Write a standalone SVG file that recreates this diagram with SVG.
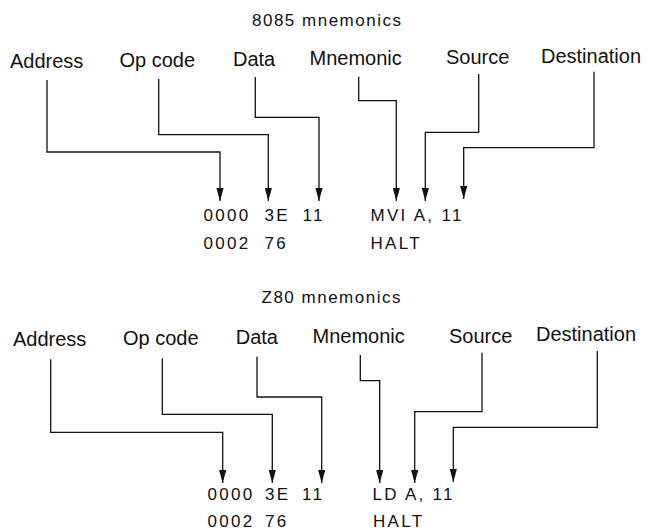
<svg xmlns="http://www.w3.org/2000/svg" width="648" height="531" viewBox="0 0 648 531">
<style>
  .title { font-family: "Liberation Sans", Arial, sans-serif; font-size: 17px; letter-spacing: 1.5px; fill: #111; }
  .label { font-family: "Liberation Sans", Arial, sans-serif; font-size: 20px; fill: #111; }
  .code { font-family: "Liberation Sans", Arial, sans-serif; font-size: 17px; letter-spacing: 2.3px; fill: #111; }
  .conn { fill: none; stroke: #111; stroke-width: 1.3; marker-end: url(#arrow); }
</style>
<defs>
  <marker id="arrow" viewBox="0 0 13 7.2" refX="13" refY="3.6" markerWidth="13" markerHeight="7.2" markerUnits="userSpaceOnUse" orient="auto">
    <path d="M0,0 L13,3.6 L0,7.2 z" fill="#111"/>
  </marker>
</defs>
<rect width="648" height="531" fill="#fff"/>

<!-- 8085 section -->
<g id="title-8085"><text class="title" x="252" y="26">8085 mnemonics</text></g>
<g id="top-address"><text class="label" x="10" y="68">Address</text></g>
<g id="top-opcode"><text class="label" x="119.5" y="67">Op code</text></g>
<g id="top-data"><text class="label" x="233" y="66">Data</text></g>
<g id="top-mnemonic"><text class="label" x="309.5" y="65">Mnemonic</text></g>
<g id="top-source"><text class="label" x="446" y="64">Source</text></g>
<g id="top-destination"><text class="label" x="541" y="63">Destination</text></g>

<g id="top-row1">
  <text class="code" x="203.5" y="221">0000</text>
  <text class="code" x="264.5" y="221">3E</text>
  <text class="code" x="302.5" y="221">11</text>
  <text class="code" x="370.5" y="221">MVI A, 11</text>
</g>
<g id="top-row2">
  <text class="code" x="203.5" y="249">0002</text>
  <text class="code" x="264.5" y="249">76</text>
  <text class="code" x="370.5" y="249">HALT</text>
</g>

<g id="top-connectors">
  <path class="conn" d="M47,80 V152 H220 V201"/>
  <path class="conn" d="M158.7,79 V134.7 H268.3 V201"/>
  <path class="conn" d="M255.3,77 V117.3 H319 V201"/>
  <path class="conn" d="M358.7,76.7 V100.7 H396.3 V201"/>
  <path class="conn" d="M478.7,74 V132.3 H425.3 V201"/>
  <path class="conn" d="M594,71.7 V147.7 H463.7 V199"/>
</g>

<!-- Z80 section -->
<g id="title-z80"><text class="title" x="261.5" y="303">Z80 mnemonics</text></g>
<g id="bot-address"><text class="label" x="13" y="346">Address</text></g>
<g id="bot-opcode"><text class="label" x="123" y="345">Op code</text></g>
<g id="bot-data"><text class="label" x="235.7" y="344">Data</text></g>
<g id="bot-mnemonic"><text class="label" x="312.5" y="343">Mnemonic</text></g>
<g id="bot-source"><text class="label" x="449" y="343">Source</text></g>
<g id="bot-destination"><text class="label" x="536" y="341">Destination</text></g>

<g id="bot-row1">
  <text class="code" x="207.5" y="500">0000</text>
  <text class="code" x="265" y="500">3E</text>
  <text class="code" x="302" y="500">11</text>
  <text class="code" x="372.5" y="500">LD A, 11</text>
</g>
<g id="bot-row2">
  <text class="code" x="207.5" y="527">0002</text>
  <text class="code" x="265" y="527">76</text>
  <text class="code" x="373" y="527">HALT</text>
</g>

<g id="bot-connectors">
  <path class="conn" d="M50.7,359.3 V432.3 H222.7 V483"/>
  <path class="conn" d="M162.3,358.3 V414.3 H272.3 V483"/>
  <path class="conn" d="M257,356.7 V397 H321.7 V483"/>
  <path class="conn" d="M360.3,355 V380.7 H379.7 V483"/>
  <path class="conn" d="M482,352.7 V411.7 H414.7 V483"/>
  <path class="conn" d="M597.3,351 V427.3 H453.3 V482"/>
</g>
</svg>
